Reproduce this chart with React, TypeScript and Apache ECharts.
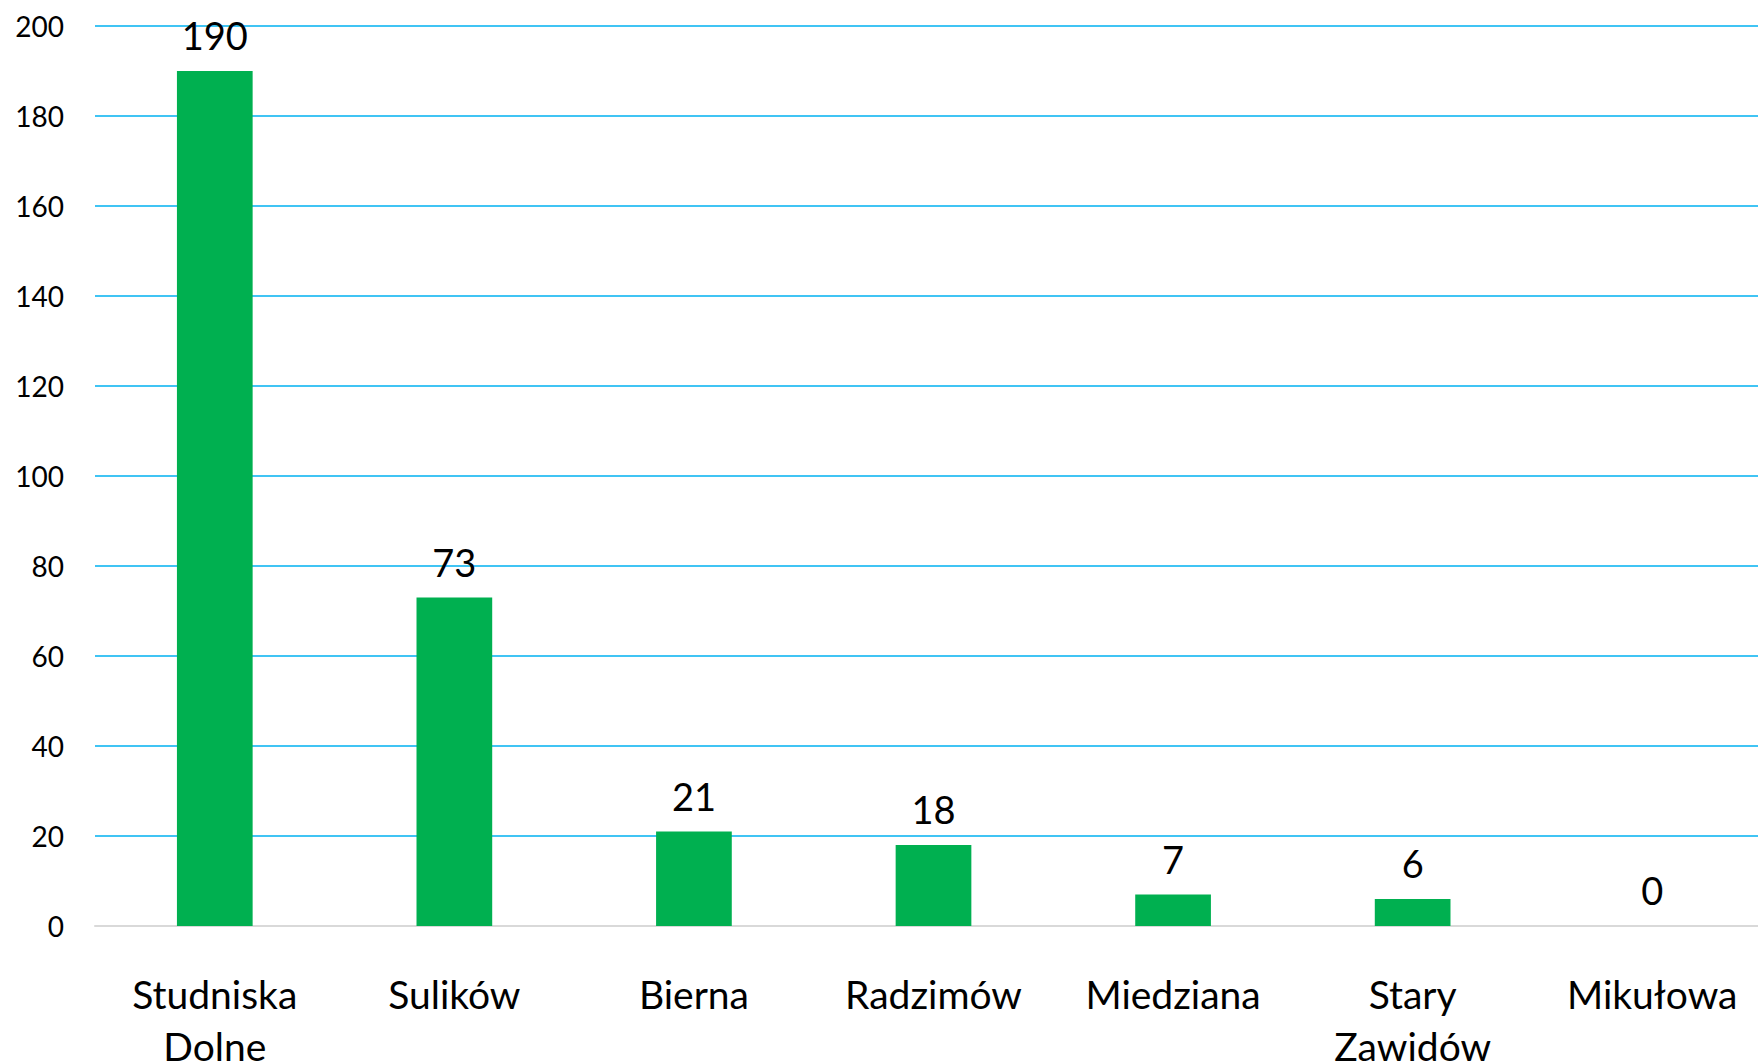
import React, { useEffect, useRef } from "react";
import * as echarts from "echarts";

const categories = ["Studniska\nDolne", "Sulików", "Bierna", "Radzimów", "Miedziana", "Stary\nZawidów", "Mikułowa"];
const values = [190, 73, 21, 18, 7, 6, 0];
const yTicks = [0, 20, 40, 60, 80, 100, 120, 140, 160, 180, 200];

const FONT = "Lato";

export default function App() {
  const ref = useRef<HTMLDivElement>(null);
  useEffect(() => {
    document.body.style.margin = "0";
    const chart = echarts.init(ref.current!, null, { renderer: "svg" });
    chart.setOption({
      animation: false,
      backgroundColor: "#ffffff",
      grid: { left: 95, right: -14, top: 26, bottom: 138, containLabel: false, outerBoundsMode: "none" },
      xAxis: {
        type: "category",
        data: categories,
        axisLine: { show: true, lineStyle: { color: "#D9D9D9", width: 2 } },
        axisTick: { show: false },
        axisLabel: {
          color: "#000",
          fontFamily: FONT,
          fontSize: 39,
          lineHeight: 52,
          margin: 42,
          interval: 0,
        },
      },
      yAxis: {
        type: "value",
        min: yTicks[0],
        max: yTicks[yTicks.length - 1],
        interval: 20,
        axisLine: { show: false },
        axisTick: { show: false },
        splitLine: { show: true, lineStyle: { color: "#00B0F0", width: 1.5 } },
        axisLabel: {
          color: "#000",
          fontFamily: FONT,
          fontSize: 28,
          margin: 31,
        },
      },
      series: [
        {
          type: "bar",
          data: values,
          barWidth: "31.6%",
          itemStyle: { color: "#00B050" },
          label: {
            show: true,
            position: "top",
            distance: 17,
            color: "#000",
            fontFamily: FONT,
            fontSize: 38,
          },
        },
      ],
    });
    return () => chart.dispose();
  }, []);
  return <div ref={ref} style={{ position: "fixed", left: 0, top: 0, width: 1758, height: 1064 }} />;
}
